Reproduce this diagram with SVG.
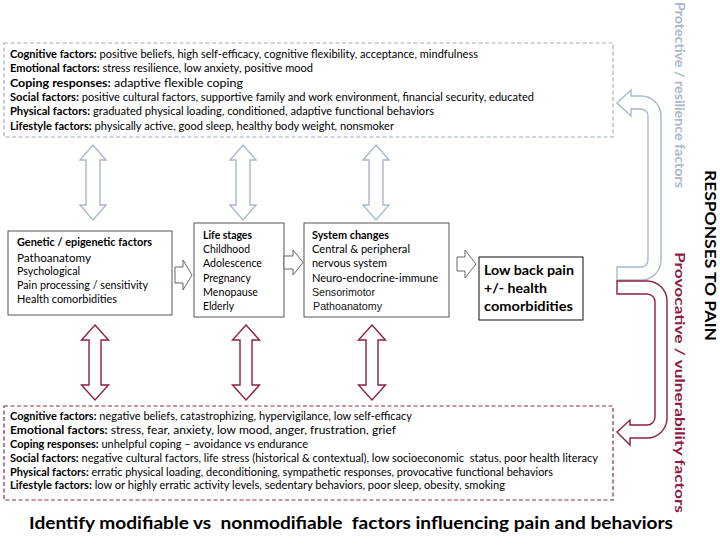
<svg xmlns="http://www.w3.org/2000/svg" width="720" height="545" viewBox="0 0 720 545">
<defs>
<style>
.t{font-family:Lato,"Liberation Sans",sans-serif;fill:#000}
.s10{font-size:10.5px}
.s11{font-size:11.5px}
.b{font-weight:bold}
.ar{font-family:"Liberation Sans",Arial,sans-serif;font-size:10.5px;fill:#111}
.box{fill:#fff;stroke:#555;stroke-width:1}
.ha{fill:#fff;stroke:#666;stroke-width:1}
.blue{fill:#fff;stroke:#a7b9cb;stroke-width:1.4}
.red{fill:#fff;stroke:#8c1f47;stroke-width:1.4}
</style>
<path id="va-top" d="M0,145 L13,160 L7,160 L7,205 L13,205 L0,220 L-13,205 L-7,205 L-7,160 L-13,160 Z"/>
<path id="va-bot" d="M0,325 L13.5,340 L6,340 L6,385 L13.5,385 L0,400 L-13.5,385 L-6,385 L-6,340 L-13.5,340 Z"/>
</defs>
<rect width="720" height="545" fill="#fff"/>

<g id="protective-box">
<rect x="4" y="43" width="609" height="94" fill="#fff" stroke="#a3afba" stroke-width="1.2" stroke-dasharray="4 2.5"/>
<text class="t s10" x="10" y="57.5" textLength="468" lengthAdjust="spacingAndGlyphs"><tspan class="b">Cognitive factors:</tspan> positive beliefs, high self-efficacy, cognitive flexibility, acceptance, mindfulness</text>
<text class="t s10" x="10" y="72" textLength="303" lengthAdjust="spacingAndGlyphs"><tspan class="b">Emotional factors:</tspan> stress resilience, low anxiety, positive mood</text>
<text class="t s10" x="10" y="86.5" textLength="233" lengthAdjust="spacingAndGlyphs"><tspan class="b">Coping responses:</tspan> adaptive flexible coping</text>
<text class="t s10" x="10" y="101" textLength="524" lengthAdjust="spacingAndGlyphs"><tspan class="b">Social factors:</tspan> positive cultural factors, supportive family and work environment, financial security, educated</text>
<text class="t s10" x="10" y="115" textLength="424" lengthAdjust="spacingAndGlyphs"><tspan class="b">Physical factors:</tspan> graduated physical loading, conditioned, adaptive functional behaviors</text>
<text class="t s10" x="10" y="129.5" textLength="384" lengthAdjust="spacingAndGlyphs"><tspan class="b">Lifestyle factors:</tspan> physically active, good sleep, healthy body weight, nonsmoker</text>
</g>

<g id="vulnerability-box">
<rect x="4" y="406" width="609" height="94" fill="#fff" stroke="#8c2a50" stroke-width="1.2" stroke-dasharray="4 2.5"/>
<text class="t s10" x="10" y="420" textLength="402" lengthAdjust="spacingAndGlyphs"><tspan class="b">Cognitive factors:</tspan> negative beliefs, catastrophizing, hypervigilance, low self-efficacy</text>
<text class="t s10" x="10" y="434" textLength="386" lengthAdjust="spacingAndGlyphs"><tspan class="b">Emotional factors:</tspan> stress, fear, anxiety, low mood, anger, frustration, grief</text>
<text class="t s10" x="10" y="448" textLength="298" lengthAdjust="spacingAndGlyphs"><tspan class="b">Coping responses:</tspan> unhelpful coping – avoidance vs endurance</text>
<text class="t s10" x="10" y="462" textLength="588" lengthAdjust="spacingAndGlyphs" style="white-space:pre"><tspan class="b">Social factors:</tspan> negative cultural factors, life stress (historical &amp; contextual), low socioeconomic  status, poor health literacy</text>
<text class="t s10" x="10" y="475.5" textLength="543" lengthAdjust="spacingAndGlyphs"><tspan class="b">Physical factors:</tspan> erratic physical loading, deconditioning, sympathetic responses, provocative functional behaviors</text>
<text class="t s10" x="10" y="489" textLength="495" lengthAdjust="spacingAndGlyphs"><tspan class="b">Lifestyle factors:</tspan> low or highly erratic activity levels, sedentary behaviors, poor sleep, obesity, smoking</text>
</g>

<g id="genetic">
<rect class="box" x="8" y="231" width="164" height="84"/>
<text class="t b" x="17" y="246" font-size="11" textLength="135" lengthAdjust="spacingAndGlyphs">Genetic / epigenetic factors</text>
<text class="t s11" x="17" y="261.5" textLength="74" lengthAdjust="spacingAndGlyphs">Pathoanatomy</text>
<text class="t s11" x="17" y="274.5" textLength="63" lengthAdjust="spacingAndGlyphs">Psychological</text>
<text class="t s11" x="17" y="289.3" textLength="131" lengthAdjust="spacingAndGlyphs">Pain processing / sensitivity</text>
<text class="t s11" x="17" y="302.7" textLength="100" lengthAdjust="spacingAndGlyphs">Health comorbidities</text>
</g>

<g id="life-stages">
<rect class="box" x="194" y="223" width="90" height="94"/>
<text class="t b" x="203" y="239" font-size="11" textLength="49" lengthAdjust="spacingAndGlyphs">Life stages</text>
<text class="t s11" x="203" y="253" textLength="47" lengthAdjust="spacingAndGlyphs">Childhood</text>
<text class="t s11" x="203" y="267.3" textLength="59" lengthAdjust="spacingAndGlyphs">Adolescence</text>
<text class="t s11" x="203" y="281.7" textLength="48" lengthAdjust="spacingAndGlyphs">Pregnancy</text>
<text class="t s11" x="203" y="296" textLength="55" lengthAdjust="spacingAndGlyphs">Menopause</text>
<text class="t s11" x="203" y="310" textLength="31" lengthAdjust="spacingAndGlyphs">Elderly</text>
</g>

<g id="system-changes">
<rect class="box" x="304" y="223" width="145" height="94"/>
<text class="t b" x="312" y="239" font-size="11" textLength="77" lengthAdjust="spacingAndGlyphs">System changes</text>
<text class="t s11" x="312" y="253" textLength="98" lengthAdjust="spacingAndGlyphs">Central &amp; peripheral</text>
<text class="t s11" x="312" y="267.3" textLength="75" lengthAdjust="spacingAndGlyphs">nervous system</text>
<text class="t s11" x="312" y="281.7" textLength="126" lengthAdjust="spacingAndGlyphs">Neuro-endocrine-immune</text>
<text class="ar" x="312" y="296" textLength="63" lengthAdjust="spacingAndGlyphs">Sensorimotor</text>
<text class="ar" x="313" y="310" textLength="69" lengthAdjust="spacingAndGlyphs">Pathoanatomy</text>
</g>

<g id="low-back-pain">
<rect x="479" y="257" width="104" height="63" fill="#fff" stroke="#111" stroke-width="1"/>
<text class="t b" x="484" y="275" font-size="13.5" textLength="90" lengthAdjust="spacingAndGlyphs">Low back pain</text>
<text class="t b" x="484" y="292.5" font-size="13.5" textLength="63" lengthAdjust="spacingAndGlyphs">+/- health</text>
<text class="t b" x="484" y="311" font-size="13.5" textLength="89" lengthAdjust="spacingAndGlyphs">comorbidities</text>
</g>

<g id="connectors">
<use href="#va-top" x="93" class="blue"/>
<use href="#va-top" x="243" class="blue"/>
<use href="#va-top" x="376" class="blue"/>
<use href="#va-bot" x="95" class="red"/>
<use href="#va-bot" x="246" class="red"/>
<use href="#va-bot" x="372" class="red"/>
<path class="ha" d="M175,267 L183,267 L183,260 L192,275 L183,290 L183,283 L175,283 Z"/>
<path class="ha" d="M284,256 L293,256 L293,250 L303,262.5 L293,275 L293,269 L284,269 Z"/>
<path class="ha" d="M457,257 L465,257 L465,250 L476,264 L465,278 L465,271 L457,271 Z"/>
<path class="blue" d="M617,103 L631,90 L631,96 L641,96 A20,20 0 0 1 661,116 L661,260 A20,20 0 0 1 641,280 L617,280 L617,267 L641,267 A7,7 0 0 0 648,260 L648,116 A7,7 0 0 0 641,109 L631,109 L631,116 Z"/>
<path class="red" d="M617,281 L647,281 A20,20 0 0 1 667,301 L667,418 A20,20 0 0 1 647,438 L630,438 L630,445 L617,432 L630,420 L630,425 L647,425 A8,8 0 0 0 655,417 L655,302 A8,8 0 0 0 647,294 L617,294 Z"/>
</g>

<g id="side-labels">
<text class="t b" transform="translate(675,2) rotate(90)" font-size="14" style="fill:#a8b8c8" textLength="186" lengthAdjust="spacingAndGlyphs">Protective / resilience factors</text>
<text class="t b" transform="translate(675,252) rotate(90)" font-size="14" style="fill:#8c1d45" textLength="261" lengthAdjust="spacingAndGlyphs">Provocative / vulnerability factors</text>
<text class="t b" transform="translate(704.5,170) rotate(90)" font-size="15" textLength="171" lengthAdjust="spacingAndGlyphs">RESPONSES TO PAIN</text>
</g>

<g id="title">
<text class="t b" x="29" y="529" font-size="17" textLength="644" lengthAdjust="spacingAndGlyphs" style="white-space:pre">Identify modifiable vs  nonmodifiable  factors influencing pain and behaviors</text>
</g>
</svg>
